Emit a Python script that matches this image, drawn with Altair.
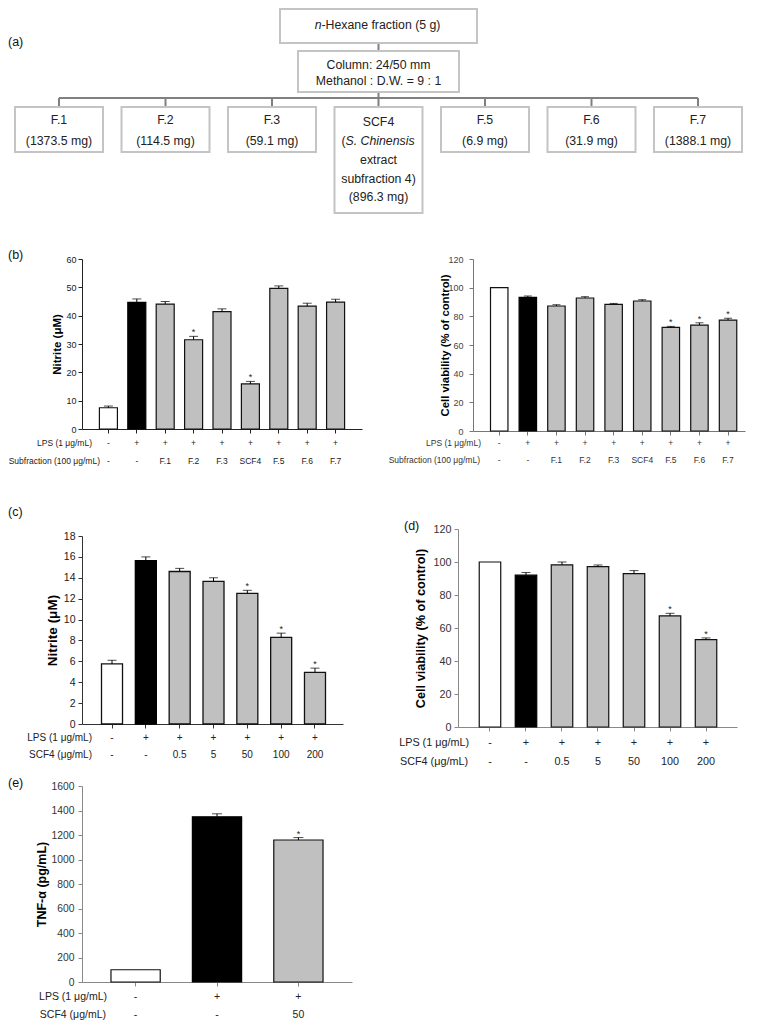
import altair as alt
import pandas as pd

FONT = "Liberation Sans"

# ---------------- (a) fractionation scheme ----------------
top_prefix = "n"
top_rest = "-Hexane fraction (5 g)"
column_lines = ["Column: 24/50 mm", "Methanol : D.W. = 9 : 1"]
frac_names = ["F.1", "F.2", "F.3", "SCF4", "F.5", "F.6", "F.7"]
frac_mass = ["(1373.5 mg)", "(114.5 mg)", "(59.1 mg)", "(896.3 mg)", "(6.9 mg)", "(31.9 mg)", "(1388.1 mg)"]
scf4_desc = ["(S. Chinensis", "extract", "subfraction 4)"]

# ---------------- (b) subfractions, 100 ug/mL ----------------
b_lps = ["-", "+", "+", "+", "+", "+", "+", "+", "+"]
b_sub = ["-", "-", "F.1", "F.2", "F.3", "SCF4", "F.5", "F.6", "F.7"]
b_no = [7.5, 44.7, 44.1, 31.5, 41.4, 15.9, 49.6, 43.4, 44.8]
b_no_err = [0.6, 1.2, 0.9, 1.2, 1.0, 0.9, 0.9, 1.0, 1.0]
b_no_sig = [0, 0, 0, 1, 0, 1, 0, 0, 0]
b_via = [100.0, 93.2, 87.2, 92.8, 88.3, 90.7, 72.3, 73.9, 77.4]
b_via_err = [0.0, 1.0, 0.9, 0.9, 0.7, 0.9, 0.7, 1.6, 1.2]
b_via_sig = [0, 0, 0, 0, 0, 0, 1, 1, 1]

# ---------------- (c), (d) SCF4 dose ----------------
cd_lps = ["-", "+", "+", "+", "+", "+", "+"]
cd_scf4 = ["-", "-", "0.5", "5", "50", "100", "200"]
c_no = [5.75, 15.65, 14.6, 13.65, 12.5, 8.3, 4.95]
c_no_err = [0.35, 0.35, 0.3, 0.35, 0.3, 0.4, 0.4]
c_sig = [0, 0, 0, 0, 1, 1, 1]
d_via = [100.0, 92.0, 98.3, 97.2, 93.0, 67.3, 53.0]
d_via_err = [0.0, 1.6, 1.7, 1.0, 1.8, 1.6, 1.0]
d_sig = [0, 0, 0, 0, 0, 1, 1]

# ---------------- (e) TNF-alpha ----------------
e_lps = ["-", "+", "+"]
e_scf4 = ["-", "-", "50"]
e_tnf = [100, 1349, 1159]
e_tnf_err = [0, 24, 20]
e_sig = [0, 0, 1]

KINDS = ["control", "lps", "treated"]


def panel(letter, letter_xy, rows, row_titles, vals, errs, sig, P):
    n = len(vals)
    kind = ["control" if rows[0][i] == "-" else ("lps" if rows[1][i] == "-" else "treated") for i in range(n)]
    df = pd.DataFrame({
        "key": list(range(n)),
        "v": vals,
        "e": errs,
        "hi": [v + e for v, e in zip(vals, errs)],
        "kind": kind,
        "sig": ["*" if s else "" for s in sig],
        "r1": rows[0],
        "r2": rows[1],
    })
    h = P["h"]
    xs = alt.Scale(domain=list(range(n)), paddingInner=P["pi"], paddingOuter=P["po"], align=P["align"])
    X = alt.X("key:O", scale=xs, axis=alt.Axis(labels=False, title=None, tickSize=4, domainColor=P["axc"],
                                               tickColor=P["axc"], domainWidth=1, tickWidth=1))
    ys = alt.Scale(domain=[0, P["ymax"]], nice=False, zero=True)
    yax = alt.Axis(values=list(range(0, P["ymax"] + 1, P["ystep"])), format="d", title=P["ytitle"],
                   titleFontSize=P["tfs"], titleFontWeight="bold", titleAngle=270, titleX=P["tx"],
                   titleY=h / 2, titleAlign="center", titleBaseline="middle", titleColor="#000",
                   labelFontSize=P["lfs"], labelColor=P["lc"], labelPadding=P["lp"], tickSize=4,
                   domainColor=P["axc"], tickColor=P["axc"], grid=False)
    base = alt.Chart(df)
    bars = base.mark_bar(strokeWidth=P["sw"]).encode(
        x=X,
        y=alt.Y("v:Q", scale=ys, axis=yax),
        fill=alt.Fill("kind:N", scale=alt.Scale(domain=KINDS, range=P["fills"]), legend=None),
        stroke=alt.Stroke("kind:N", scale=alt.Scale(domain=KINDS, range=P["strokes"]), legend=None),
    )
    errbase = base.transform_filter("datum.e > 0")
    rule = errbase.mark_rule(color="#000", strokeWidth=1).encode(
        x=X, y=alt.Y("v:Q", scale=ys, axis=yax), y2="hi:Q")
    cap = errbase.mark_tick(color="#000", thickness=1, size=P["cap"]).encode(
        x=X, y=alt.Y("hi:Q", scale=ys, axis=yax))
    stars = base.transform_filter("datum.sig != ''").mark_text(
        fontSize=9, baseline="bottom", dy=1, color="#222").encode(
        x=X, y=alt.Y("hi:Q", scale=ys, axis=yax), text="sig:N")
    r1 = base.mark_text(fontSize=P["rfs"], color=P["rc"], baseline="middle").encode(
        x=X, y=alt.value(h + P["ro"][0]), text="r1:N")
    r2 = base.mark_text(fontSize=P["rfs"], color=P["rc"], baseline="middle").encode(
        x=X, y=alt.value(h + P["ro"][1]), text="r2:N")
    t1 = alt.Chart(pd.DataFrame({"t": [row_titles[0]]})).mark_text(
        fontSize=P["rfs"], color=P["rc"], align="right", baseline="middle").encode(
        x=alt.value(P["re"][0]), y=alt.value(h + P["ro"][0]), text="t:N")
    t2 = alt.Chart(pd.DataFrame({"t": [row_titles[1]]})).mark_text(
        fontSize=P["rfs"], color=P["rc"], align="right", baseline="middle").encode(
        x=alt.value(P["re"][1]), y=alt.value(h + P["ro"][1]), text="t:N")
    layers = [bars, rule, cap, stars, r1, r2, t1, t2]
    if letter:
        lab = alt.Chart(pd.DataFrame({"t": [letter]})).mark_text(
            fontSize=12.5, color="#111", align="left", baseline="middle").encode(
            x=alt.value(letter_xy[0]), y=alt.value(letter_xy[1]), text="t:N")
        layers.append(lab)
    return alt.layer(*layers).properties(width=P["w"], height=h)


# ---------------- flowchart ----------------
CW = 106.5  # px per column (layout)
fx = alt.Scale(domain=[0, 6], range=[-23, -23 + 6 * CW], nice=False, zero=False)
fy = alt.Scale(domain=[0, 215], range=[-8, 207], nice=False, zero=False)
mid = 3
half_small = 44 / CW
boxes = [
    {"x0": mid - 98.5 / CW, "x1": mid + 98.5 / CW, "y0": 9, "y1": 43},
    {"x0": mid - 80.5 / CW, "x1": mid + 80.5 / CW, "y0": 51, "y1": 92},
]
for i, nm in enumerate(frac_names):
    boxes.append({"x0": i - half_small, "x1": i + half_small, "y0": 107,
                  "y1": 213 if nm == "SCF4" else 152})
box_df = pd.DataFrame(boxes)

segs = [
    {"x0": mid, "x1": mid, "y0": 43, "y1": 51},
    {"x0": mid, "x1": mid, "y0": 92, "y1": 98},
    {"x0": 0, "x1": len(frac_names) - 1, "y0": 98, "y1": 98},
]
for i in range(len(frac_names)):
    segs.append({"x0": i, "x1": i, "y0": 98, "y1": 107})
seg_df = pd.DataFrame(segs)

txt = [{"c": mid, "y": 65, "t": column_lines[0]}, {"c": mid, "y": 81, "t": column_lines[1]}]
for i, (nm, ms) in enumerate(zip(frac_names, frac_mass)):
    if nm == "SCF4":
        txt.append({"c": i, "y": 122, "t": nm})
        txt.append({"c": i, "y": 160, "t": scf4_desc[1]})
        txt.append({"c": i, "y": 179, "t": scf4_desc[2]})
        txt.append({"c": i, "y": 197, "t": ms})
    else:
        txt.append({"c": i, "y": 120, "t": nm})
        txt.append({"c": i, "y": 141, "t": ms})
txt_df = pd.DataFrame(txt)
scf4_i = frac_names.index("SCF4")

FS = 12.3
TC = "#222"
seg_layer = alt.Chart(seg_df).mark_rule(color="#808080", strokeWidth=2).encode(
    x=alt.X("x0:Q", scale=fx, axis=None), x2="x1:Q",
    y=alt.Y("y0:Q", scale=fy, axis=None), y2="y1:Q")
box_layer = alt.Chart(box_df).mark_rect(fill="white", stroke="#c4c4c4", strokeWidth=2).encode(
    x=alt.X("x0:Q", scale=fx, axis=None), x2="x1:Q",
    y=alt.Y("y0:Q", scale=fy, axis=None), y2="y1:Q")
txt_layer = alt.Chart(txt_df).mark_text(fontSize=FS, color=TC, baseline="middle").encode(
    x=alt.X("c:Q", scale=fx, axis=None), y=alt.Y("y:Q", scale=fy, axis=None), text="t:N")
top_df = pd.DataFrame({"c": [mid], "y": [25], "p": [top_prefix], "r": [top_rest]})
top_n = alt.Chart(top_df).mark_text(fontSize=FS, color=TC, baseline="middle", align="right",
                                    fontStyle="italic", dx=-57).encode(
    x=alt.X("c:Q", scale=fx, axis=None), y=alt.Y("y:Q", scale=fy, axis=None), text="p:N")
top_r = alt.Chart(top_df).mark_text(fontSize=FS, color=TC, baseline="middle", align="left", dx=-57).encode(
    x=alt.X("c:Q", scale=fx, axis=None), y=alt.Y("y:Q", scale=fy, axis=None), text="r:N")
sc_df = pd.DataFrame({"c": [scf4_i], "y": [141], "p": [scf4_desc[0][0]], "r": [scf4_desc[0][1:]]})
sc_p = alt.Chart(sc_df).mark_text(fontSize=FS, color=TC, baseline="middle", align="right", dx=-33).encode(
    x=alt.X("c:Q", scale=fx, axis=None), y=alt.Y("y:Q", scale=fy, axis=None), text="p:N")
sc_r = alt.Chart(sc_df).mark_text(fontSize=FS, color=TC, baseline="middle", align="left",
                                  fontStyle="italic", dx=-33).encode(
    x=alt.X("c:Q", scale=fx, axis=None), y=alt.Y("y:Q", scale=fy, axis=None), text="r:N")
a_lab = alt.Chart(pd.DataFrame({"t": ["(a)"]})).mark_text(
    fontSize=12.5, color="#111", align="left", baseline="middle").encode(
    x=alt.value(-74), y=alt.value(34), text="t:N")
flow = alt.layer(seg_layer, box_layer, txt_layer, top_n, top_r, sc_p, sc_r, a_lab).properties(
    width=670, height=153)

# ---------------- panels ----------------
Pb1 = dict(w=280, h=170, ymax=60, ystep=10, ytitle="Nitrite (\u03bcM)", tfs=11.5, tx=-25, lfs=9, lc="#222",
           lp=2, axc="#222", pi=0.366, po=0.613, align=0.5, sw=1.2, cap=9,
           fills=["#ffffff", "#000000", "#c0c0c0"], strokes=["#111", "#000", "#111"],
           rfs=8.5, rc="#222", ro=(14, 32), re=(10, 18))
Pb2 = dict(w=272, h=172, ymax=120, ystep=20, ytitle="Cell viability (% of control)", tfs=11.3, tx=-28,
           lfs=9, lc="#444", lp=6, axc="#777", pi=0.39, po=0.45, align=0.68, sw=1.2, cap=8,
           fills=["#ffffff", "#000000", "#b0b0b0"], strokes=["#555", "#000", "#7a7a7a"],
           rfs=8.5, rc="#333", ro=(12, 29), re=(8, 7))
Pc = dict(w=261, h=188, ymax=18, ystep=2, ytitle="Nitrite (\u03bcM)", tfs=13.5, tx=-30, lfs=10.5,
          lc="#222", lp=3, axc="#333", pi=0.379, po=0.547, align=0.527, sw=1.3, cap=9,
          fills=["#ffffff", "#000000", "#c0c0c0"], strokes=["#111", "#000", "#111"],
          rfs=10, rc="#222", ro=(14, 31), re=(10, 10))
Pd = dict(w=279, h=198, ymax=120, ystep=20, ytitle="Cell viability (% of control)", tfs=12.7, tx=-38,
          lfs=10.8, lc="#333", lp=3, axc="#888", pi=0.403, po=0.576, align=0.512, sw=1.2, cap=9,
          fills=["#ffffff", "#000000", "#ababab"], strokes=["#555", "#000", "#7a7a7a"],
          rfs=10.8, rc="#222", ro=(16, 35), re=(11, 10))
Pe = dict(w=270, h=196, ymax=1600, ystep=200, ytitle="TNF-\u03b1 (pg/mL)", tfs=12.5, tx=-41, lfs=10.3,
          lc="#333", lp=4, axc="#888", pi=0.395, po=0.356, align=0.5, sw=1.2, cap=10,
          fills=["#ffffff", "#000000", "#b4b4b4"], strokes=["#777", "#000", "#888"],
          rfs=10.5, rc="#222", ro=(15, 33), re=(25, 24))

b1 = panel("(b)", (-74, -4), [b_lps, b_sub], ["LPS (1 \u03bcg/mL)", "Subfraction (100 \u03bcg/mL)"],
           b_no, b_no_err, b_no_sig, Pb1)
b2 = panel(None, None, [b_lps, b_sub], ["LPS (1 \u03bcg/mL)", "Subfraction (100 \u03bcg/mL)"],
           b_via, b_via_err, b_via_sig, Pb2)
c = panel("(c)", (-74, -24), [cd_lps, cd_scf4], ["LPS (1 \u03bcg/mL)", "SCF4 (\u03bcg/mL)"],
          c_no, c_no_err, c_sig, Pc)
d = panel("(d)", (-54, -3), [cd_lps, cd_scf4], ["LPS (1 \u03bcg/mL)", "SCF4 (\u03bcg/mL)"],
          d_via, d_via_err, d_sig, Pd)
e = panel("(e)", (-74, -3), [e_lps, e_scf4], ["LPS (1 \u03bcg/mL)", "SCF4 (\u03bcg/mL)"],
          e_tnf, e_tnf_err, e_sig, Pe)


def spacer(h):
    return alt.Chart(pd.DataFrame({"a": [0]})).mark_point(opacity=0).encode(
        x=alt.value(0), y=alt.value(0)).properties(width=1, height=h)


# With flush bounds, nested concat groups count as zero-size, so spacings below
# are measured from the start of each nested group.
colC = alt.vconcat(alt.vconcat(spacer(1), c, spacing=6, bounds="flush"), e, spacing=257, bounds="flush")
rowB = alt.hconcat(b1, b2, spacing=111, bounds="flush")
rowCD = alt.hconcat(colC, d, spacing=376, bounds="flush")

chart = alt.vconcat(flow, rowB, spacer(74), rowCD, spacing=98, bounds="flush").properties(
    padding={"left": 0, "top": 0, "right": 0, "bottom": 0}
).configure(font=FONT).configure_view(stroke=None)

chart.save("out.html", embed_options={"renderer": "svg", "actions": False})
